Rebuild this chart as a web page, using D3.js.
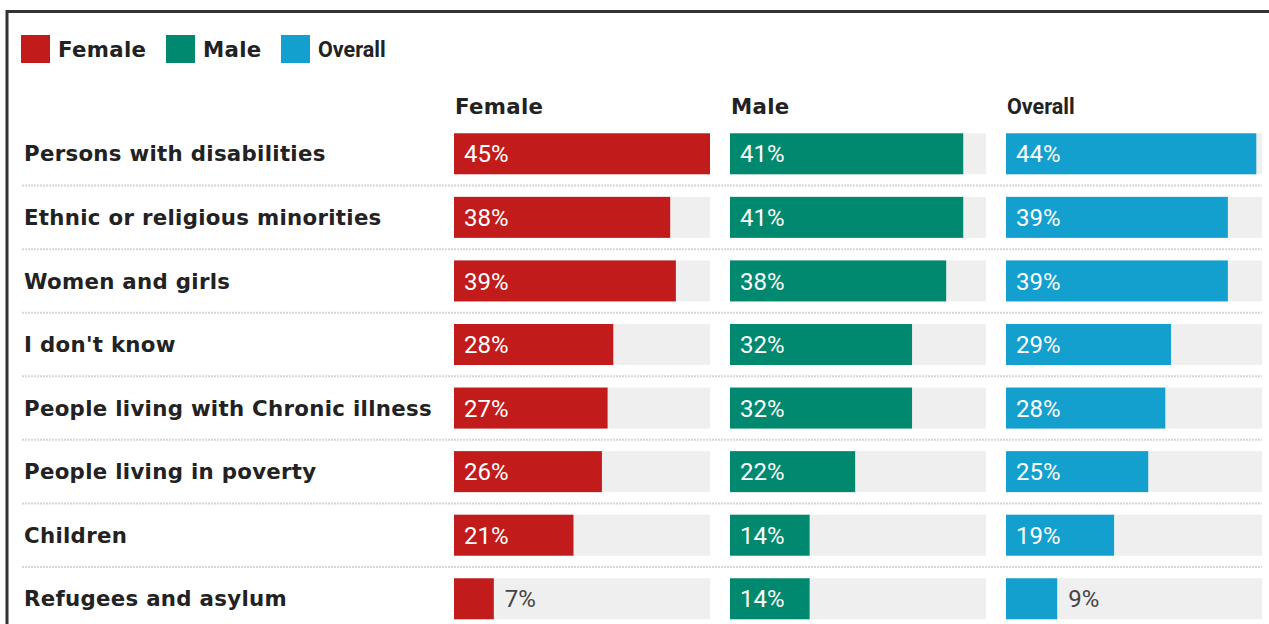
<!DOCTYPE html>
<html>
<head>
<meta charset="utf-8">
<script src="https://cdn.jsdelivr.net/npm/d3@7"></script>
<style>
  html, body { margin: 0; padding: 0; background: #fff; }
  svg { display: block; }
</style>
</head>
<body>
<svg id="chart" width="1269" height="624"></svg>
<script>
// Groups asked about, top to bottom
const categories = [
  "Persons with disabilities",
  "Ethnic or religious minorities",
  "Women and girls",
  "I don't know",
  "People living with Chronic illness",
  "People living in poverty",
  "Children",
  "Refugees and asylum"
];

// Share of respondents (%) per group
const femaleValues  = [45, 38, 39, 28, 27, 26, 21, 7];
const maleValues    = [41, 41, 38, 32, 32, 22, 14, 14];
const overallValues = [44, 39, 39, 29, 28, 25, 19, 9];

const seriesNames  = ["Female", "Male", "Overall"];
const seriesColors = ["#c11b1b", "#00896e", "#14a0ce"];
const seriesValues = [femaleValues, maleValues, overallValues];

const svg = d3.select("#chart");

const verdanaBold = "'DejaVu Sans', Verdana, sans-serif";
const robotoFont  = "Roboto, 'Open Sans', sans-serif";

// shared style for the bold sans labels
function boldLabel(sel, roboto) {
  sel.attr("font-family", roboto ? robotoFont : verdanaBold)
    .attr("font-weight", "bold")
    .attr("font-size", roboto ? 21.5 : 21.3)
    .attr("letter-spacing", roboto ? 0 : 0.3)
    .attr("fill", "#222");
}

// Frame: top and left rules
svg.append("path")
  .attr("d", "M7,1000 V11.5 H1269")
  .attr("fill", "none")
  .attr("stroke", "#333")
  .attr("stroke-width", 3);

// Legend
const legendX = [21, 166, 281];
const legend = svg.append("g");
seriesNames.forEach((name, i) => {
  legend.append("rect")
    .attr("x", legendX[i]).attr("y", 35)
    .attr("width", 29).attr("height", 28)
    .attr("fill", seriesColors[i]);
  legend.append("text")
    .attr("x", legendX[i] + 37).attr("y", 57)
    .call(boldLabel, i === 2)
    .text(name);
});

// Row layout
const y = d3.scaleBand()
  .domain(categories)
  .range([122, 122 + 8 * 63.57])
  .paddingInner(0.355)
  .paddingOuter(0.1775);

// Column layout: one offset per series, all bars sharing the same scale
const colX = d3.scaleOrdinal().domain(seriesNames).range([454, 730, 1006]);
const trackWidth = 256;
const x = d3.scaleLinear().domain([0, 45]).range([0, trackWidth]);

// Dotted separators between rows
const gap = y.step() - y.bandwidth();
svg.append("g")
  .selectAll("line")
  .data(categories.slice(0, -1))
  .join("line")
  .attr("x1", 22).attr("x2", 1262)
  .attr("y1", d => y(d) + y.bandwidth() + gap / 2)
  .attr("y2", d => y(d) + y.bandwidth() + gap / 2)
  .attr("stroke", "#d6d6d6")
  .attr("stroke-width", 2)
  .attr("stroke-dasharray", "2,1");

// Category labels
svg.append("g")
  .selectAll("text")
  .data(categories)
  .join("text")
  .attr("x", 24)
  .attr("y", d => y(d) + y.bandwidth() / 2)
  .attr("dy", "0.36em")
  .call(boldLabel, false)
  .text(d => d);

// Column headers
svg.append("g")
  .selectAll("text")
  .data(seriesNames)
  .join("text")
  .attr("x", d => colX(d) + 1)
  .attr("y", 114)
  .each(function (d, i) { d3.select(this).call(boldLabel, i === 2); })
  .text(d => d);

// Bars per series
seriesNames.forEach((name, si) => {
  const rows = categories.map((c, i) => ({ cat: c, value: seriesValues[si][i] }));
  const g = svg.append("g").attr("transform", `translate(${colX(name)},0)`);

  // light grey track
  g.selectAll("rect.track")
    .data(rows)
    .join("rect")
    .attr("class", "track")
    .attr("x", 0)
    .attr("y", d => y(d.cat))
    .attr("width", x(45))
    .attr("height", y.bandwidth())
    .attr("fill", "#efefef");

  // value bar
  g.selectAll("rect.bar")
    .data(rows)
    .join("rect")
    .attr("class", "bar")
    .attr("x", 0)
    .attr("y", d => y(d.cat))
    .attr("width", d => x(d.value))
    .attr("height", y.bandwidth())
    .attr("fill", seriesColors[si]);

  // value label: inside for long bars, outside for short ones
  g.selectAll("text.value")
    .data(rows)
    .join("text")
    .attr("class", "value")
    .attr("x", d => d.value < 10 ? x(d.value) + 11 : 10)
    .attr("y", d => y(d.cat) + y.bandwidth() / 2)
    .attr("dy", "0.36em")
    .attr("font-family", robotoFont)
    .attr("font-weight", "normal")
    .attr("font-size", 24)
    .attr("fill", d => d.value < 10 ? "#444" : "#fff")
    .text(d => d.value + "%");
});
</script>
</body>
</html>
